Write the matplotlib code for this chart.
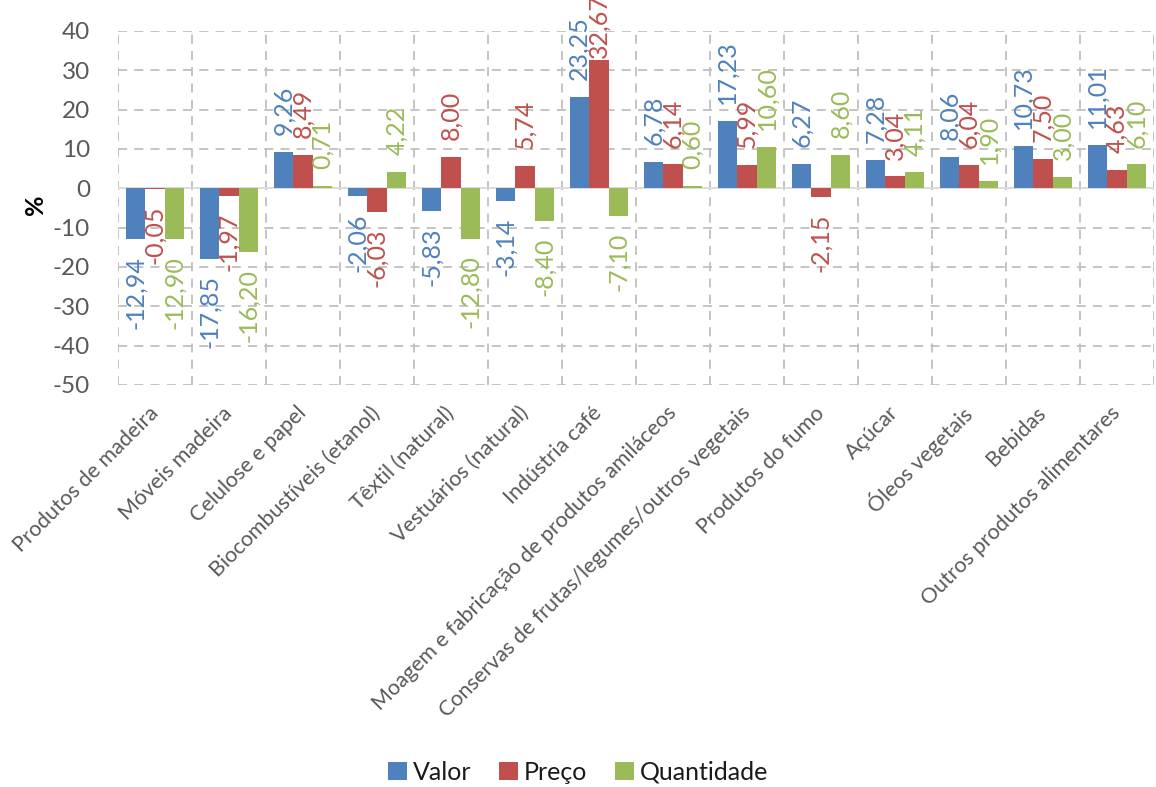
import numpy as np
import matplotlib

matplotlib.use("Agg")
import matplotlib.pyplot as plt
from matplotlib.patches import Patch

plt.rcParams["font.family"] = ["Lato", "DejaVu Sans"]
plt.rcParams["axes.unicode_minus"] = False

categories = [
    "Produtos de madeira",
    "Móveis madeira",
    "Celulose e papel",
    "Biocombustíveis (etanol)",
    "Têxtil (natural)",
    "Vestuários (natural)",
    "Indústria café",
    "Moagem e fabricação de produtos amiláceos",
    "Conservas de frutas/legumes/outros vegetais",
    "Produtos do fumo",
    "Açúcar",
    "Óleos vegetais",
    "Bebidas",
    "Outros produtos alimentares",
]
valor = [-12.94, -17.85, 9.26, -2.06, -5.83, -3.14, 23.25, 6.78, 17.23, 6.27, 7.28, 8.06, 10.73, 11.01]
preco = [-0.05, -1.97, 8.49, -6.03, 8.00, 5.74, 32.67, 6.14, 5.99, -2.15, 3.04, 6.04, 7.50, 4.63]
quantidade = [-12.90, -16.20, 0.71, 4.22, -12.80, -8.40, -7.10, 0.60, 10.60, 8.60, 4.11, 1.90, 3.00, 6.10]

series = [
    ("Valor", valor, "#4F81BD"),
    ("Preço", preco, "#C0504D"),
    ("Quantidade", quantidade, "#9BBB59"),
]

W, H = 1156, 787
fig = plt.figure(figsize=(W / 100, H / 100), dpi=100)
ax = fig.add_axes([118 / W, 1 - 385 / H, (1154 - 118) / W, (385 - 31) / H])

x = np.arange(len(categories))
bw = 0.265
grid_kw = dict(color="#BFBFBF", lw=1.3, ls=(0, (5, 4)), zorder=0)

for i, (name, vals, col) in enumerate(series):
    xs = x + (i - 1) * bw
    ax.bar(xs, vals, bw, color=col, zorder=2, label=name)
    for xi, v in zip(xs, vals):
        txt = f"{v:.2f}".replace(".", ",")
        if v >= 0:
            # labels near the top sit right on the bar end
            off = 1 if v > 30 else 12
        else:
            off = -12
        ax.annotate(txt, (xi, v), xytext=(0, off), textcoords="offset points",
                    rotation=90, ha="center", va="bottom" if v >= 0 else "top",
                    color=col, fontsize=18, zorder=3, annotation_clip=False)

ax.set_xlim(-0.5, len(categories) - 0.5)
ax.set_ylim(-50, 40)
ax.set_yticks(np.arange(-50, 41, 10))

# dashed grid: horizontal at each tick, vertical between categories
for yv in np.arange(-50, 41, 10):
    if yv != 0:
        ax.axhline(yv, **grid_kw)
for xb in np.arange(-0.5, len(categories), 1.0):
    ax.axvline(xb, **grid_kw)
ax.axhline(0, color="#D9D9D9", lw=1.3, zorder=1)

for s in ax.spines.values():
    s.set_visible(False)

ax.set_xticks(x)
ax.set_xticklabels(categories, rotation=45, ha="right", va="center",
                   rotation_mode="anchor", fontsize=15.5, color="#595959")
ax.tick_params(axis="x", length=0, pad=18)
ax.tick_params(axis="y", length=0, pad=20, labelsize=17.5, labelcolor="#595959")

fig.text(35 / W, 1 - 205 / H, "%", rotation=90, fontsize=18, fontweight="bold",
         ha="center", va="center", color="#000000")

handles = [Patch(facecolor=c, edgecolor="none") for _, _, c in series]
fig.legend(handles, [n for n, _, _ in series], loc="center",
           bbox_to_anchor=(0.5, 1 - 772 / H), ncol=3, frameon=False,
           fontsize=18, handlelength=0.75, handleheight=0.75, handletextpad=0.25,
           columnspacing=1.1, labelcolor="#1a1a1a")

fig.savefig("out.png", dpi=100)
